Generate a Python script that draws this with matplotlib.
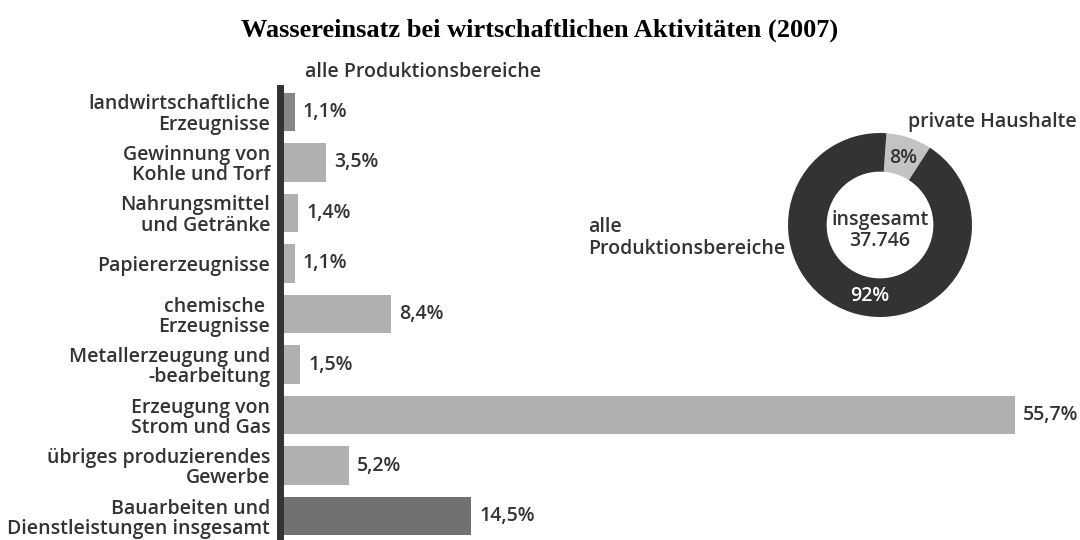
import matplotlib
matplotlib.use("Agg")
import matplotlib.pyplot as plt

# bar chart data (share of water use, all production sectors)
categories = [
    "landwirtschaftliche\nErzeugnisse",
    "Gewinnung von\nKohle und Torf",
    "Nahrungsmittel\nund Getränke",
    "Papiererzeugnisse",
    "chemische \nErzeugnisse",
    "Metallerzeugung und\n-bearbeitung",
    "Erzeugung von\nStrom und Gas",
    "übriges produzierendes\nGewerbe",
    "Bauarbeiten und\nDienstleistungen insgesamt",
]
shares = [1.1, 3.5, 1.4, 1.1, 8.4, 1.5, 55.7, 5.2, 14.5]
share_labels = ["1,1%", "3,5%", "1,4%", "1,1%", "8,4%", "1,5%", "55,7%", "5,2%", "14,5%"]
bar_colors = ["#878787"] + ["#b0b0b0"] * 7 + ["#717171"]

# donut data
donut_names = ["private Haushalte", "alle\nProduktionsbereiche"]
donut_values = [8, 92]
donut_labels = ["8%", "92%"]
total_label = "insgesamt\n37.746"

TXT = "#333333"
FONT = "Open Sans"
FS = 14
W, H = 1080, 540

fig = plt.figure(figsize=(W / 100, H / 100), dpi=100)
fig.patch.set_facecolor("white")

fig.text(0.5, 1 - 30 / H, "Wassereinsatz bei wirtschaftlichen Aktivitäten (2007)",
         ha="center", va="center", fontsize=19, fontweight="bold",
         family="Liberation Serif", color="black")

# bars
x0, top, bot = 280, 88, 540
px_per_pct = (1015 - x0) / 55.7
ax_w = 1078 - x0
ax = fig.add_axes([x0 / W, 1 - bot / H, ax_w / W, (bot - top) / H])
ypos = list(range(len(categories)))
ax.barh(ypos, shares, height=0.76, color=bar_colors, zorder=1)
ax.set_xlim(0, ax_w / px_per_pct)
ax.set_ylim(len(categories) - 0.525, -0.475)
ax.set_yticks(ypos)
ax.set_yticklabels(categories, fontsize=FS, fontweight="semibold", family=FONT,
                   color=TXT, linespacing=1.02, ha="right")
ax.tick_params(axis="y", length=0, pad=7)
ax.set_xticks([])
for s in ["top", "right", "bottom"]:
    ax.spines[s].set_visible(False)
ax.spines["left"].set_linewidth(5)
ax.spines["left"].set_color("#333333")
ax.spines["left"].set_zorder(3)
for y, v, lab in zip(ypos, shares, share_labels):
    ax.annotate(lab, (v, y), xytext=(6, 0), textcoords="offset points",
                ha="left", va="center", fontsize=FS, fontweight="semibold",
                family=FONT, color=TXT)
fig.text(305 / W, 1 - 72 / H, "alle Produktionsbereiche", ha="left", va="center",
         fontsize=FS, fontweight="semibold", family=FONT, color=TXT)

# donut
cx, cy, r = 880, 225, 92
dax = fig.add_axes([(cx - r) / W, 1 - (cy + r) / H, 2 * r / W, 2 * r / H])
dax.pie(donut_values, colors=["#c3c3c3", "#333333"], startangle=86,
        counterclock=False, radius=1.0,
        wedgeprops=dict(width=0.42, edgecolor="none"))
dax.set_xlim(-1, 1)
dax.set_ylim(-1, 1)
dax.set_aspect("equal")
dax.text(0, -0.06, total_label, ha="center", va="center", fontsize=FS,
         fontweight="semibold", family=FONT, color=TXT, linespacing=1.12)
dax.text(0.25, 0.73, donut_labels[0], ha="center", va="center", fontsize=FS,
         fontweight="semibold", family=FONT, color=TXT)
dax.text(-0.11, -0.77, donut_labels[1], ha="center", va="center", fontsize=FS,
         fontweight="semibold", family=FONT, color="white")
fig.text(908 / W, 1 - 122 / H, donut_names[0], ha="left", va="center",
         fontsize=FS, fontweight="semibold", family=FONT, color=TXT)
fig.text(588 / W, 1 - 238 / H, donut_names[1], ha="left", va="center",
         fontsize=FS, fontweight="semibold", family=FONT, color=TXT, linespacing=1.15)

fig.savefig("out.png", dpi=100, facecolor="white")
